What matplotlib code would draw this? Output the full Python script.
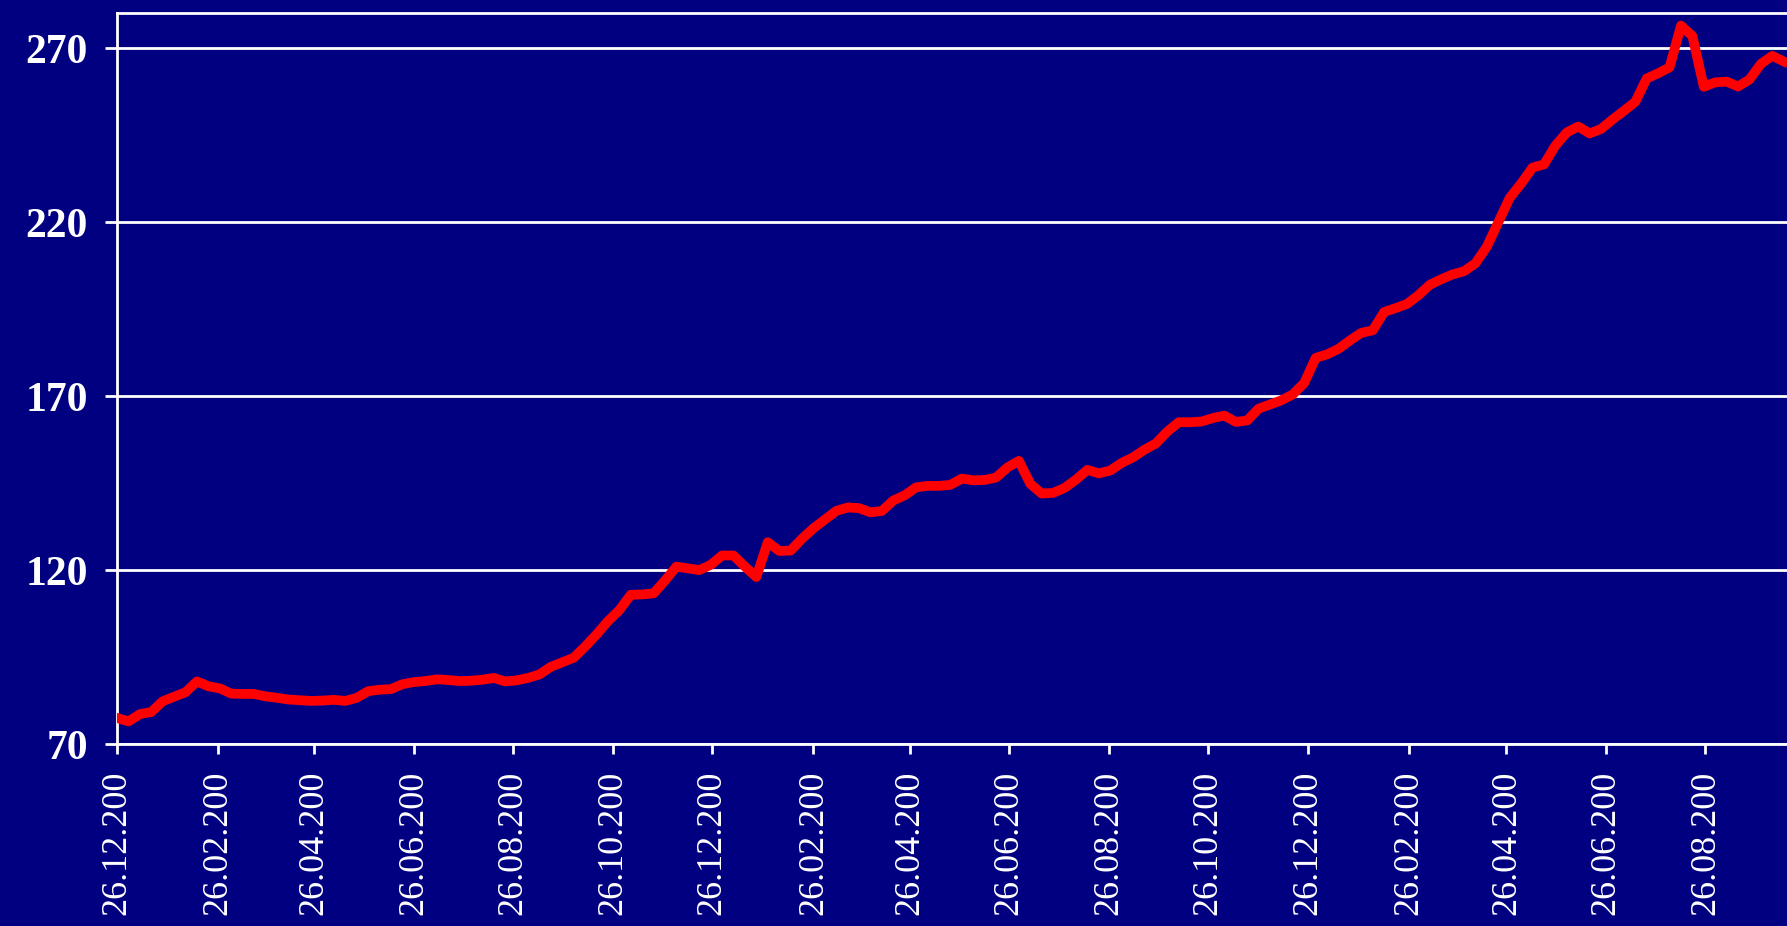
import matplotlib
matplotlib.use('Agg')
import matplotlib.pyplot as plt
import pandas as pd

# weekly index values
start = '2005-12-26'
values = [77.5, 76.5, 78.6, 79.2, 82.3, 83.6, 84.9, 88.0, 86.6, 86.0,
          84.5, 84.4, 84.4, 83.7, 83.3, 82.8, 82.6, 82.4, 82.5, 82.7,
          82.4, 83.3, 85.2, 85.6, 85.8, 87.2, 87.8, 88.1, 88.6, 88.4,
          88.1, 88.2, 88.5, 89.0, 88.0, 88.3, 89.0, 90.0, 92.2, 93.5,
          94.8, 98.0, 101.5, 105.3, 108.5, 112.9, 113.0, 113.3, 117.0, 121.0,
          120.5, 120.0, 121.5, 124.2, 124.2, 121.0, 118.0, 128.0, 125.5, 125.6,
          129.0, 132.0, 134.5, 137.0, 138.0, 137.8, 136.6, 137.0, 140.0, 141.5,
          143.8, 144.2, 144.2, 144.5, 146.3, 145.8, 145.9, 146.6, 149.5, 151.4,
          144.8, 142.0, 142.2, 143.6, 146.0, 148.8, 147.8, 148.6, 150.8, 152.4,
          154.6, 156.4, 159.8, 162.5, 162.5, 162.7, 163.7, 164.4, 162.6, 163.0,
          166.4, 167.6, 168.8, 170.5, 173.8, 181.0, 182.0, 183.6, 186.0, 188.2,
          188.9, 194.2, 195.3, 196.5, 199.0, 202.0, 203.6, 205.0, 205.9, 208.2,
          213.0, 220.0, 227.0, 231.1, 235.7, 236.6, 242.0, 245.8, 247.5, 245.5,
          246.8, 249.5, 252.0, 254.6, 261.3, 262.8, 264.5, 276.5, 273.5, 258.9,
          260.2, 260.4, 259.0, 261.0, 265.5, 267.8, 266.2]
yticks = [70, 120, 170, 220, 270]

dates = pd.date_range(start, periods=len(values), freq='7D')
tick_dates = pd.date_range(start, periods=17, freq=pd.DateOffset(months=2))
tick_labels = [d.strftime('%d.%m.%Y')[:-1] for d in tick_dates]

navy = '#000080'
fig = plt.figure(figsize=(17.87, 9.26), dpi=100, facecolor=navy)
ax = fig.add_axes([0.0655, 0.1965, 0.95, 0.789])
ax.set_facecolor(navy)

ax.plot(dates, values, color='#ff0000', lw=7, solid_joinstyle='round', zorder=3)

ax.set_ylim(70, 280)
ax.set_xlim(pd.Timestamp(start), pd.Timestamp(start) + pd.Timedelta(days=1041))
ax.set_yticks(yticks)
ax.set_yticklabels([str(v) for v in yticks], family='Liberation Serif',
                   fontweight='bold', fontsize=30, color='white')
ax.set_xticks(tick_dates)
ax.set_xticklabels(tick_labels, rotation=90, family='Liberation Serif',
                   fontsize=26, color='white', va='top')

ax.grid(axis='y', color='white', lw=2)
ax.grid(axis='x', visible=False)
for side in ['top', 'left', 'bottom']:
    ax.spines[side].set_color('white')
    ax.spines[side].set_linewidth(2)
ax.spines['right'].set_visible(False)
ax.tick_params(axis='y', length=9, width=2, color='white', pad=12)
ax.tick_params(axis='x', length=7, width=2, color='white', pad=12)

plt.savefig('out.png', dpi=100, facecolor=navy)
